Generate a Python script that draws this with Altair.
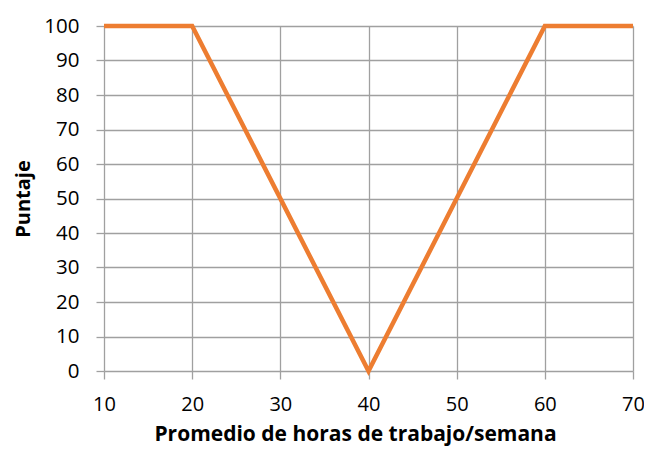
import altair as alt
import pandas as pd

horas = [10, 20, 40, 60, 70]
puntaje = [100, 100, 0, 100, 100]

df = pd.DataFrame({"horas": horas, "puntaje": puntaje})

FONT = "Open Sans"
GRID = "#a0a0a0"

chart = alt.Chart(df).mark_line(color="#ED7D31", strokeWidth=4.5, clip=False).encode(
    x=alt.X("horas:Q",
            scale=alt.Scale(domain=[10, 70], nice=False, zero=False),
            axis=alt.Axis(values=[10, 20, 30, 40, 50, 60, 70], title="Promedio de horas de trabajo/semana",
                          grid=True, gridColor=GRID, gridWidth=1.3,
                          domain=False, ticks=True, tickColor=GRID, tickSize=8, tickWidth=1.3,
                          labelFlush=False, labelOverlap=False,
                          labelFont=FONT, labelFontSize=20, labelColor="#000", labelPadding=15,
                          titleFont=FONT, titleFontSize=21, titleFontWeight="bold", titleColor="#000",
                          titleX=251, titlePadding=9)),
    y=alt.Y("puntaje:Q",
            scale=alt.Scale(domain=[0, 100], nice=False),
            axis=alt.Axis(values=list(range(0, 101, 10)), title="Puntaje",
                          grid=True, gridColor=GRID, gridWidth=1.3,
                          domain=False, ticks=True, tickColor=GRID, tickSize=8, tickWidth=1.3,
                          labelFlush=False, labelOverlap=False,
                          labelFont=FONT, labelFontSize=20.5, labelColor="#000", labelPadding=17,
                          titleFont=FONT, titleFontSize=20, titleFontWeight="bold", titleColor="#000",
                          titlePadding=10)),
).properties(
    width=529, height=345,
    autosize=alt.AutoSizeParams(type="none"),
    padding={"left": 96, "top": 18, "right": 11, "bottom": 77},
).configure_view(stroke=None)

chart.save("out.html", embed_options={"renderer": "svg", "actions": False})
